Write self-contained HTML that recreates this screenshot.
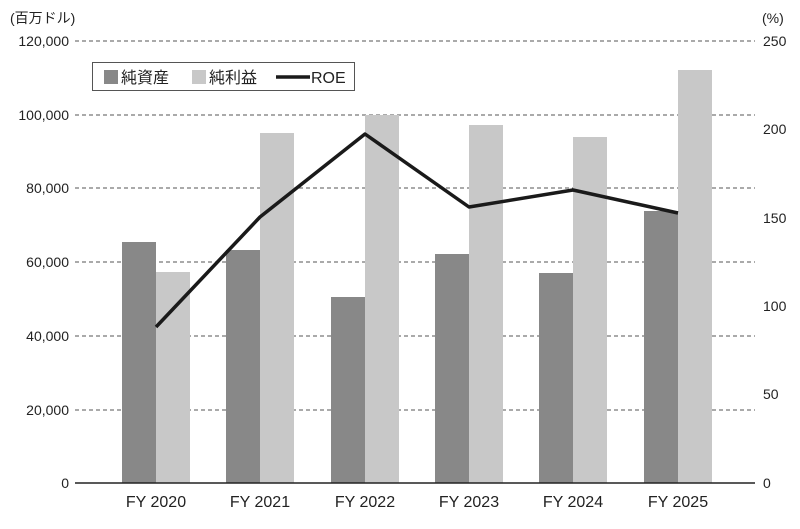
<!DOCTYPE html>
<html><head><meta charset="utf-8"><style>
body{margin:0;background:#fff}
svg text{font-family:"Liberation Sans","Noto Sans CJK JP",sans-serif;fill:#222}
</style></head><body>
<svg width="800" height="524" viewBox="0 0 800 524" xmlns="http://www.w3.org/2000/svg">
<g stroke="#555" stroke-width="1" stroke-dasharray="4,3">
<line x1="75" y1="41" x2="755" y2="41"/><line x1="75" y1="115" x2="755" y2="115"/>
<line x1="75" y1="188" x2="755" y2="188"/><line x1="75" y1="262" x2="755" y2="262"/>
<line x1="75" y1="336" x2="755" y2="336"/><line x1="75" y1="410" x2="755" y2="410"/>
</g>
<g font-size="14" text-anchor="end">
<text x="69" y="46">120,000</text><text x="69" y="120">100,000</text>
<text x="69" y="193">80,000</text><text x="69" y="267">60,000</text>
<text x="69" y="341">40,000</text><text x="69" y="415">20,000</text>
<text x="69" y="488">0</text>
</g>
<g font-size="14" text-anchor="start">
<text x="763" y="46">250</text><text x="763" y="134">200</text>
<text x="763" y="223">150</text><text x="763" y="311">100</text>
<text x="763" y="399">50</text><text x="763" y="488">0</text>
</g>
<text x="10" y="23" font-size="14">(百万ドル)</text>
<text x="762" y="23" font-size="14">(%)</text>
<g fill="#888">
<rect x="122" y="242" width="34" height="241"/><rect x="226" y="250" width="34" height="233"/>
<rect x="331" y="297" width="34" height="186"/><rect x="435" y="254" width="34" height="229"/>
<rect x="539" y="273" width="34" height="210"/><rect x="644" y="211" width="34" height="272"/>
</g>
<g fill="#c8c8c8">
<rect x="156" y="272" width="34" height="211"/><rect x="260" y="133" width="34" height="350"/>
<rect x="365" y="115" width="34" height="368"/><rect x="469" y="125" width="34" height="358"/>
<rect x="573" y="137" width="34" height="346"/><rect x="678" y="70" width="34" height="413"/>
</g>
<line x1="75" y1="483" x2="755" y2="483" stroke="#222" stroke-width="1.5"/>
<polyline points="156,327 260,217 365,134 469,207 573,190 678,213" fill="none" stroke="#1a1a1a" stroke-width="3.5" stroke-linejoin="round"/>
<g font-size="16" text-anchor="middle">
<text x="156" y="507">FY 2020</text><text x="260" y="507">FY 2021</text>
<text x="365" y="507">FY 2022</text><text x="469" y="507">FY 2023</text>
<text x="573" y="507">FY 2024</text><text x="678" y="507">FY 2025</text>
</g>
<rect x="92.5" y="62.5" width="262" height="28" fill="#fff" stroke="#555" stroke-width="1"/>
<rect x="104" y="70" width="14" height="14" fill="#888"/>
<text x="121" y="83" font-size="16">純資産</text>
<rect x="192" y="70" width="14" height="14" fill="#c8c8c8"/>
<text x="209" y="83" font-size="16">純利益</text>
<line x1="276" y1="77" x2="310" y2="77" stroke="#1a1a1a" stroke-width="3.5"/>
<text x="311" y="83" font-size="16">ROE</text>
</svg>
</body></html>
